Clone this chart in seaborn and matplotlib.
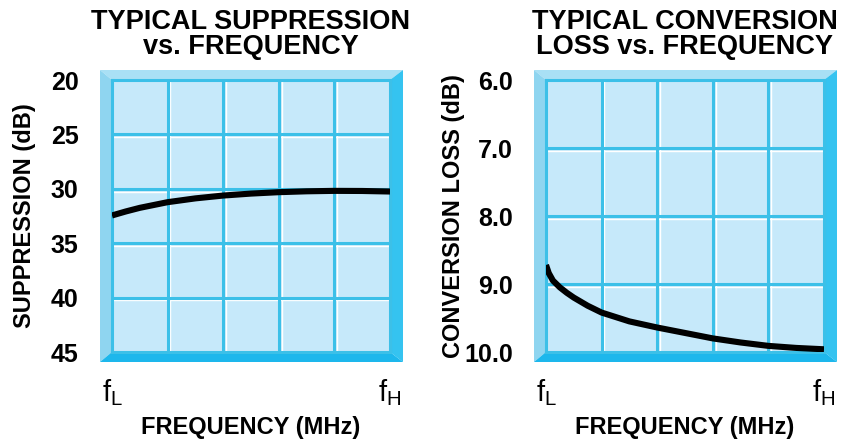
import matplotlib
matplotlib.use("Agg")
import matplotlib.pyplot as plt
import matplotlib.transforms as mtransforms
from matplotlib.patches import Polygon
import seaborn as sns

# frequency position across the band, 0 = fL, 1 = fH
freq_supp = [0.0, 0.05, 0.1, 0.2, 0.3, 0.4, 0.5, 0.6, 0.7, 0.8, 0.9, 1.0]
suppression = [32.45, 32.08, 31.75, 31.23, 30.88, 30.62, 30.44, 30.31, 30.23, 30.19, 30.2, 30.25]

freq_loss = [0.0, 0.01, 0.025, 0.05, 0.075, 0.1, 0.15, 0.2, 0.3, 0.4, 0.5, 0.6, 0.7, 0.8, 0.9, 1.0]
conv_loss = [8.72, 8.84, 8.95, 9.05, 9.13, 9.2, 9.32, 9.42, 9.55, 9.64, 9.72, 9.8, 9.86, 9.91, 9.94, 9.96]

supp_ticks = [20, 25, 30, 35, 40, 45]
loss_ticks = [6.0, 7.0, 8.0, 9.0, 10.0]
loss_labels = ["6.0", "7.0", "8.0", "9.0", "10.0"]
freq_grid = [0.2, 0.4, 0.6, 0.8]
freq_labels = [r"$\mathrm{f_L}$", r"$\mathrm{f_H}$"]

sns.set_style("white")
plt.rcParams["font.family"] = ["Liberation Sans", "DejaVu Sans"]
plt.rcParams["mathtext.fontset"] = "custom"
plt.rcParams["mathtext.rm"] = "Liberation Sans"
plt.rcParams["mathtext.it"] = "Liberation Sans"
for k in ["text.color", "axes.labelcolor", "xtick.color", "ytick.color"]:
    plt.rcParams[k] = "black"

BG = "#c6e9fa"
GRID = "#3cc0e8"
TOP = "#a9e0f5"
LEFT = "#8fd5f0"
RIGHT = "#35c3f0"
BOTTOM = "#1db7ec"

fig = plt.figure(figsize=(8.41, 4.40), dpi=100)
ax1 = fig.add_axes([112 / 841, 88 / 440, 278 / 841, 272 / 440])
ax2 = fig.add_axes([546 / 841, 88 / 440, 278 / 841, 272 / 440])


def bevel(ax):
    l, r, t, b = 12 / 278, 13 / 278, 10 / 272, 10 / 272
    polys = [
        ([(-l, 1 + t), (1 + r, 1 + t), (1, 1), (0, 1)], TOP),
        ([(-l, -b), (-l, 1 + t), (0, 1), (0, 0)], LEFT),
        ([(1, 0), (1, 1), (1 + r, 1 + t), (1 + r, -b)], RIGHT),
        ([(-l, -b), (0, 0), (1, 0), (1 + r, -b)], BOTTOM),
    ]
    for pts, c in polys:
        ax.add_patch(Polygon(pts, closed=True, transform=ax.transAxes,
                             facecolor=c, edgecolor="none", clip_on=False, zorder=0.5))


def style(ax, yticks, ylabels, ylim, title, ylabel, ylab_x):
    ax.set_facecolor(BG)
    bevel(ax)
    off_v = mtransforms.ScaledTranslation(2 / 72, 0, fig.dpi_scale_trans)
    off_h = mtransforms.ScaledTranslation(0, -2 / 72, fig.dpi_scale_trans)
    for x in freq_grid:
        w = ax.axvline(x, color="white", lw=1.0, zorder=1)
        w.set_transform(w.get_transform() + off_v)
        ax.axvline(x, color=GRID, lw=2.2, zorder=1.5)
    for y in yticks[1:-1]:
        w = ax.axhline(y, color="white", lw=1.0, zorder=1)
        w.set_transform(w.get_transform() + off_h)
        ax.axhline(y, color=GRID, lw=2.2, zorder=1.5)
    for s in ax.spines.values():
        s.set_color(GRID)
        s.set_linewidth(2.2)
    ax.set_xlim(0, 1)
    ax.set_ylim(ylim[1], ylim[0])
    ax.set_yticks(yticks, ylabels)
    ax.set_xticks([0, 1], freq_labels)
    ax.tick_params(axis="y", length=0, pad=24, labelsize=18)
    ax.tick_params(axis="x", length=0, pad=18, labelsize=21)
    for lab in ax.get_yticklabels():
        lab.set_fontweight("bold")
    ax.set_title(title, fontsize=19.5, fontweight="bold", pad=19, linespacing=0.95)
    ax.set_xlabel("FREQUENCY (MHz)", fontsize=17, fontweight="bold")
    ax.xaxis.set_label_coords(0.5, -0.235)
    ax.set_ylabel(ylabel, fontsize=17, fontweight="bold")
    ax.yaxis.set_label_coords(ylab_x, 0.5)


style(ax1, supp_ticks, [str(v) for v in supp_ticks], (20, 45),
      "TYPICAL SUPPRESSION\nvs. FREQUENCY", "SUPPRESSION (dB)", -0.275)
sns.lineplot(x=freq_supp, y=suppression, ax=ax1, color="black", lw=4.4,
             zorder=3, solid_capstyle="butt")

style(ax2, loss_ticks, loss_labels, (6.0, 10.0),
      "TYPICAL CONVERSION\nLOSS vs. FREQUENCY", "CONVERSION LOSS (dB)", -0.29)
sns.lineplot(x=freq_loss, y=conv_loss, ax=ax2, color="black", lw=4.4,
             zorder=3, solid_capstyle="butt")

fig.savefig("out.png", dpi=100, facecolor="white")
